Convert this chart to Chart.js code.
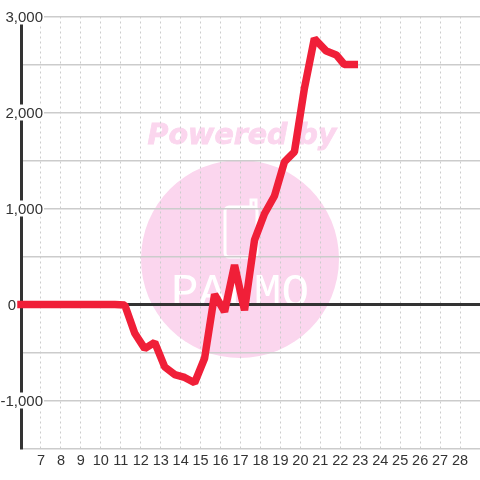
<!DOCTYPE html>
<html>
<head>
<meta charset="utf-8">
<style>
  html, body { margin: 0; padding: 0; background: #fff; }
  #wrap { width: 480px; height: 480px; }
</style>
<script src="https://cdn.jsdelivr.net/npm/chart.js"></script>
</head>
<body>
<div id="wrap"><canvas id="chart" width="480" height="480"></canvas></div>
<script>
// values
var hours = [6, 6.7, 7.2, 7.7, 8.2, 8.7, 9.2, 9.7, 10.2, 10.7, 11.2, 11.7, 12.2, 12.7, 13.2, 13.7, 14.2, 14.7, 15.2, 15.7, 16.2, 16.7, 17.2, 17.7, 18.2, 18.7, 19.2, 19.7, 20.2, 20.7, 21.3, 21.8, 22.2, 22.7];
var balance = [0, 0, 0, 0, 0, 0, 0, 0, 0, 0, -5, -300, -460, -395, -650, -730, -760, -815, -560, 105, -75, 410, -60, 670, 945, 1130, 1485, 1590, 2250, 2770, 2640, 2600, 2500, 2500];
var yTicks = [3000, 2500, 2000, 1500, 1000, 500, 0, -500, -1000, -1500];
var yLabels = [3000, 2000, 1000, 0, -1000];
var xTicks = [7, 8, 9, 10, 11, 12, 13, 14, 15, 16, 17, 18, 19, 20, 21, 22, 23, 24, 25, 26, 27, 28];

var watermark = {
    id: 'watermark',
    beforeDraw: function (chart) {
        var c = chart.ctx;
        c.save();
        c.fillStyle = '#fbd6ee';
        c.beginPath();
        c.arc(240, 259, 99, 0, Math.PI * 2);
        c.fill();
        c.font = 'italic bold 28.5px "DejaVu Sans"';
        c.textAlign = 'center';
        c.textBaseline = 'alphabetic';
        c.fillText('Powered by', 242, 144);
        c.strokeStyle = '#fbd6ee';
        c.lineWidth = 0.8;
        c.strokeText('Powered by', 242, 144);
        // phone outline
        c.strokeStyle = '#fff';
        c.lineWidth = 3;
        c.beginPath();
        c.roundRect(225, 207, 32, 50, 4);
        c.stroke();
        c.beginPath();
        c.moveTo(251, 207);
        c.lineTo(251, 200);
        c.lineTo(256, 200);
        c.lineTo(256, 208);
        c.stroke();
        c.fillStyle = '#fff';
        c.font = '46px "Liberation Mono"';
        c.fillText('PALMO', 240, 306);
        c.restore();
    }
};

// y labels sit inside the plot on a white box that hides axis and grid
var yTickLabels = {
    id: 'yTickLabels',
    beforeDatasetsDraw: function (chart) {
        var c = chart.ctx;
        var scale = chart.scales.y;
        c.save();
        c.font = '15px "Liberation Sans"';
        c.textAlign = 'right';
        c.textBaseline = 'middle';
        yLabels.forEach(function (v) {
            var text = v.toLocaleString('en-US');
            var y = scale.getPixelForValue(v);
            var right = v === 0 ? 16 : 43;
            var w = c.measureText(text).width;
            c.fillStyle = '#fff';
            c.fillRect(right - w - 1, y - 8, w + 2, 16);
            c.fillStyle = '#333';
            c.fillText(text, right, y + 1);
        });
        c.restore();
    }
};

new Chart(document.getElementById('chart').getContext('2d'), {
    type: 'line',
    data: {
        datasets: [{
            data: hours.map(function (h, i) { return { x: h, y: balance[i] }; }),
            borderColor: '#f01f38',
            borderWidth: 7.5,
            borderCapStyle: 'square',
            borderJoinStyle: 'bevel',
            pointRadius: 0,
            tension: 0,
            fill: false,
            clip: false
        }]
    },
    options: {
        responsive: false,
        animation: false,
        devicePixelRatio: 1,
        layout: { padding: { top: 16.5, right: -1, bottom: 0, left: 0 } },
        plugins: { legend: { display: false }, tooltip: { enabled: false } },
        scales: {
            x: {
                type: 'linear',
                min: 6,
                max: 29,
                afterBuildTicks: function (axis) {
                    axis.ticks = xTicks.map(function (v) { return { value: v }; });
                },
                grid: {
                    color: '#cccccc',
                    lineWidth: 1,
                    drawTicks: false
                },
                border: { display: false, dash: [2, 3] },
                ticks: {
                    color: '#333',
                    font: { family: 'Liberation Sans', size: 14.5 },
                    padding: 4,
                    autoSkip: false,
                    maxRotation: 0,
                    callback: function (v) { return String(v); }
                },
                afterFit: function (axis) { axis.height = 31.5; }
            },
            y: {
                min: -1500,
                max: 3000,
                afterBuildTicks: function (axis) {
                    axis.ticks = yTicks.map(function (v) { return { value: v }; });
                },
                grid: {
                    color: function (c) { return c.tick && c.tick.value === 0 ? '#333' : '#cccccc'; },
                    lineWidth: function (c) { return c.tick && c.tick.value === 0 ? 3 : 1.5; },
                    drawTicks: false
                },
                border: { display: true, color: '#333', width: 3 },
                ticks: { display: false },
                afterFit: function (axis) { axis.width = 21; }
            }
        }
    },
    plugins: [watermark, yTickLabels]
});
</script>
</body>
</html>
